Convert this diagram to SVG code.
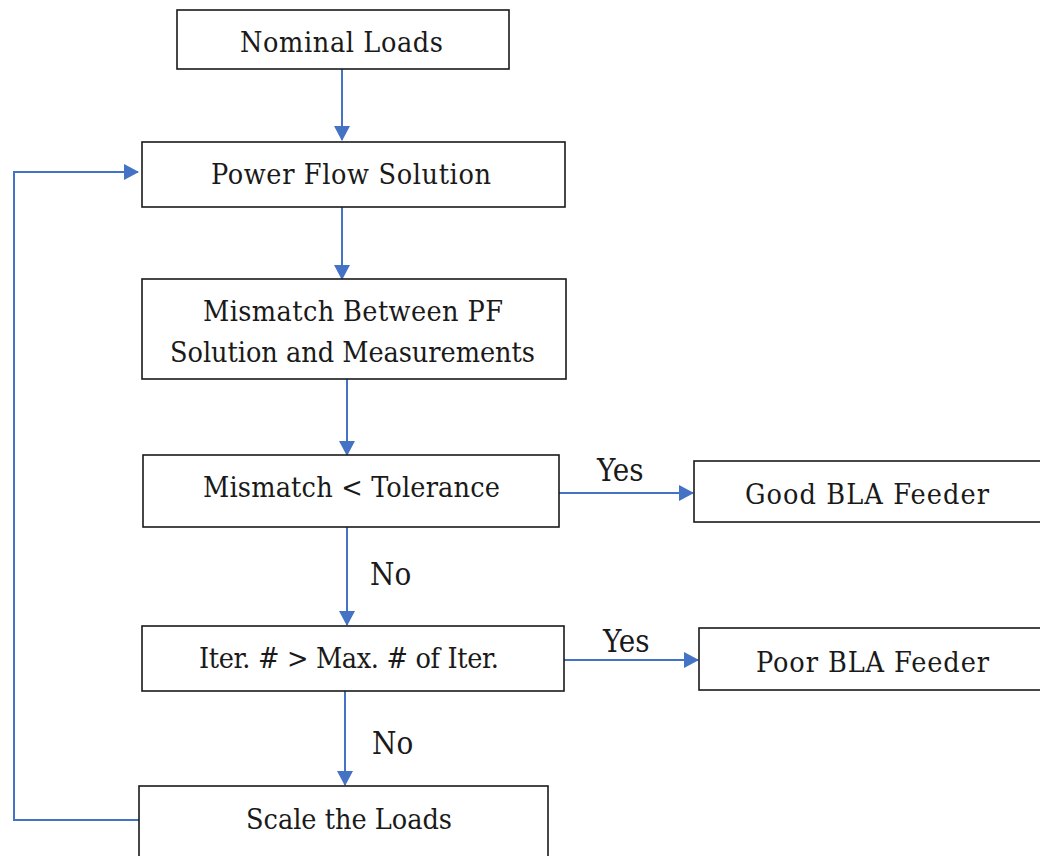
<svg xmlns="http://www.w3.org/2000/svg" width="1040" height="856" viewBox="0 0 1040 856">
<style>
.box{fill:#fff;stroke:#1a1a1a;stroke-width:1.6}
.t{font-family:'DejaVu Serif Condensed','DejaVu Serif',serif;font-stretch:condensed;font-size:28.5px;fill:#1a1a1a;text-anchor:middle}
.lbl{font-family:'DejaVu Serif Condensed','DejaVu Serif',serif;font-stretch:condensed;font-size:31px;fill:#1a1a1a}
.c{fill:none;stroke:#4472C4;stroke-width:2}
</style>
<defs>
<marker id="ah" markerWidth="16" markerHeight="16" refX="14" refY="8" orient="auto" markerUnits="userSpaceOnUse">
<path d="M0,0 L15,8 L0,16 Z" fill="#4472C4"/>
</marker>
</defs>
<rect width="1040" height="856" fill="#fff"/>
<g id="connectors">
<line class="c" x1="342" y1="69" x2="342" y2="140" marker-end="url(#ah)"/>
<line class="c" x1="342" y1="207" x2="342" y2="279" marker-end="url(#ah)"/>
<line class="c" x1="347" y1="379" x2="347" y2="455" marker-end="url(#ah)"/>
<line class="c" x1="347" y1="527" x2="347" y2="625" marker-end="url(#ah)"/>
<line class="c" x1="345" y1="691" x2="345" y2="785" marker-end="url(#ah)"/>
<line class="c" x1="559" y1="493" x2="693" y2="493" marker-end="url(#ah)"/>
<line class="c" x1="564" y1="660" x2="698" y2="660" marker-end="url(#ah)"/>
<polyline class="c" points="139,820 14,820 14,172 138,172" marker-end="url(#ah)"/>
<text class="lbl" x="597" y="481">Yes</text>
<text class="lbl" x="603" y="652">Yes</text>
<text class="lbl" x="370" y="585">No</text>
<text class="lbl" x="372" y="754">No</text>
</g>
<g id="nominal">
<rect class="box" x="177" y="10" width="332" height="59"/>
<text class="t" x="341.5" y="52" textLength="203">Nominal Loads</text>
</g>
<g id="powerflow">
<rect class="box" x="142" y="142" width="423" height="65"/>
<text class="t" x="351" y="184" textLength="280">Power Flow Solution</text>
</g>
<g id="mismatch">
<rect class="box" x="142" y="279" width="424" height="100"/>
<text class="t" x="353" y="321" textLength="300">Mismatch Between PF</text>
<text class="t" x="352.5" y="362" textLength="365">Solution and Measurements</text>
</g>
<g id="tolerance">
<rect class="box" x="143" y="455" width="416" height="72"/>
<text class="t" x="351.5" y="497" textLength="297">Mismatch &lt; Tolerance</text>
</g>
<g id="good">
<rect class="box" x="694" y="461" width="350" height="61"/>
<text class="t" x="867" y="504" textLength="244">Good BLA Feeder</text>
</g>
<g id="iter">
<rect class="box" x="142" y="626" width="422" height="65"/>
<text class="t" x="349" y="668" textLength="300">Iter. # &gt; Max. # of Iter.</text>
</g>
<g id="poor">
<rect class="box" x="699" y="628" width="345" height="62"/>
<text class="t" x="872.5" y="672" textLength="233">Poor BLA Feeder</text>
</g>
<g id="scale">
<rect class="box" x="139" y="786" width="409" height="80"/>
<text class="t" x="349" y="829" textLength="206">Scale the Loads</text>
</g>
</svg>
